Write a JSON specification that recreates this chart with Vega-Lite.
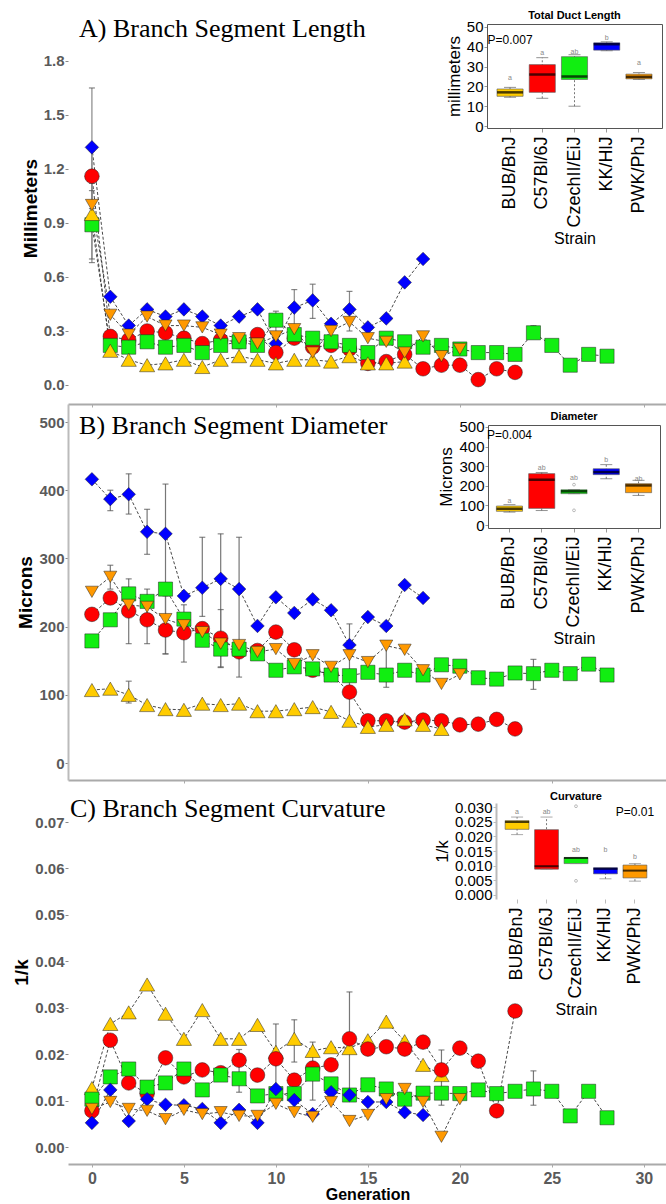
{
"$schema": "https://vega.github.io/schema/vega-lite/v6.json",
"padding": {"left": 12, "top": 10, "right": 0, "bottom": 0},
"autosize": {"type": "pad"},
"spacing": 0,
"bounds": "flush",
"config": {"view": {"stroke": null}, "font": "Liberation Sans", "axis": {"grid": false}},
"datasets": {
"lenA": [
{"strain":"KK/HlJ","gen":0,"value":1.32,"lo":0.68,"hi":1.65},{"strain":"KK/HlJ","gen":1,"value":0.49},{"strain":"KK/HlJ","gen":2,"value":0.33},{"strain":"KK/HlJ","gen":3,"value":0.42},{"strain":"KK/HlJ","gen":4,"value":0.38},{"strain":"KK/HlJ","gen":5,"value":0.42},{"strain":"KK/HlJ","gen":6,"value":0.38},{"strain":"KK/HlJ","gen":7,"value":0.33},{"strain":"KK/HlJ","gen":8,"value":0.38},{"strain":"KK/HlJ","gen":9,"value":0.42},{"strain":"KK/HlJ","gen":10,"value":0.23},{"strain":"KK/HlJ","gen":11,"value":0.43,"lo":0.33,"hi":0.53},{"strain":"KK/HlJ","gen":12,"value":0.47,"lo":0.37,"hi":0.56},{"strain":"KK/HlJ","gen":13,"value":0.34},{"strain":"KK/HlJ","gen":14,"value":0.42,"lo":0.30,"hi":0.52},{"strain":"KK/HlJ","gen":15,"value":0.32},{"strain":"KK/HlJ","gen":16,"value":0.37},{"strain":"KK/HlJ","gen":17,"value":0.57},{"strain":"KK/HlJ","gen":18,"value":0.70},
{"strain":"C57Bl/6J","gen":0,"value":1.16,"lo":0.98,"hi":1.30},{"strain":"C57Bl/6J","gen":1,"value":0.27},{"strain":"C57Bl/6J","gen":2,"value":0.25},{"strain":"C57Bl/6J","gen":3,"value":0.30},{"strain":"C57Bl/6J","gen":4,"value":0.29},{"strain":"C57Bl/6J","gen":5,"value":0.26},{"strain":"C57Bl/6J","gen":6,"value":0.23},{"strain":"C57Bl/6J","gen":7,"value":0.25},{"strain":"C57Bl/6J","gen":8,"value":0.24},{"strain":"C57Bl/6J","gen":9,"value":0.28},{"strain":"C57Bl/6J","gen":10,"value":0.18},{"strain":"C57Bl/6J","gen":11,"value":0.26},{"strain":"C57Bl/6J","gen":12,"value":0.21},{"strain":"C57Bl/6J","gen":13,"value":0.22},{"strain":"C57Bl/6J","gen":14,"value":0.20},{"strain":"C57Bl/6J","gen":15,"value":0.12},{"strain":"C57Bl/6J","gen":16,"value":0.13},{"strain":"C57Bl/6J","gen":17,"value":0.17},{"strain":"C57Bl/6J","gen":18,"value":0.09},{"strain":"C57Bl/6J","gen":19,"value":0.11},{"strain":"C57Bl/6J","gen":20,"value":0.11},{"strain":"C57Bl/6J","gen":21,"value":0.03},{"strain":"C57Bl/6J","gen":22,"value":0.09},{"strain":"C57Bl/6J","gen":23,"value":0.07},
{"strain":"CzechII/EiJ","gen":0,"value":0.89,"lo":0.70,"hi":1.08},{"strain":"CzechII/EiJ","gen":1,"value":0.22},{"strain":"CzechII/EiJ","gen":2,"value":0.21},{"strain":"CzechII/EiJ","gen":3,"value":0.24},{"strain":"CzechII/EiJ","gen":4,"value":0.21},{"strain":"CzechII/EiJ","gen":5,"value":0.22},{"strain":"CzechII/EiJ","gen":6,"value":0.18},{"strain":"CzechII/EiJ","gen":7,"value":0.22},{"strain":"CzechII/EiJ","gen":8,"value":0.24},{"strain":"CzechII/EiJ","gen":9,"value":0.22},{"strain":"CzechII/EiJ","gen":10,"value":0.36,"lo":0.26,"hi":0.41},{"strain":"CzechII/EiJ","gen":11,"value":0.28},{"strain":"CzechII/EiJ","gen":12,"value":0.26},{"strain":"CzechII/EiJ","gen":13,"value":0.24},{"strain":"CzechII/EiJ","gen":14,"value":0.22},{"strain":"CzechII/EiJ","gen":15,"value":0.18},{"strain":"CzechII/EiJ","gen":16,"value":0.26},{"strain":"CzechII/EiJ","gen":17,"value":0.24},{"strain":"CzechII/EiJ","gen":18,"value":0.21},{"strain":"CzechII/EiJ","gen":19,"value":0.22},{"strain":"CzechII/EiJ","gen":20,"value":0.20},{"strain":"CzechII/EiJ","gen":21,"value":0.18},{"strain":"CzechII/EiJ","gen":22,"value":0.18},{"strain":"CzechII/EiJ","gen":23,"value":0.17},{"strain":"CzechII/EiJ","gen":24,"value":0.29,"lo":0.26,"hi":0.33},{"strain":"CzechII/EiJ","gen":25,"value":0.22},{"strain":"CzechII/EiJ","gen":26,"value":0.11},{"strain":"CzechII/EiJ","gen":27,"value":0.17},{"strain":"CzechII/EiJ","gen":28,"value":0.16},
{"strain":"BUB/BnJ","gen":0,"value":0.95},{"strain":"BUB/BnJ","gen":1,"value":0.19},{"strain":"BUB/BnJ","gen":2,"value":0.14},{"strain":"BUB/BnJ","gen":3,"value":0.11},{"strain":"BUB/BnJ","gen":4,"value":0.12},{"strain":"BUB/BnJ","gen":5,"value":0.14},{"strain":"BUB/BnJ","gen":6,"value":0.10},{"strain":"BUB/BnJ","gen":7,"value":0.14},{"strain":"BUB/BnJ","gen":8,"value":0.16},{"strain":"BUB/BnJ","gen":9,"value":0.14},{"strain":"BUB/BnJ","gen":10,"value":0.12},{"strain":"BUB/BnJ","gen":11,"value":0.14},{"strain":"BUB/BnJ","gen":12,"value":0.14},{"strain":"BUB/BnJ","gen":13,"value":0.13},{"strain":"BUB/BnJ","gen":14,"value":0.16},{"strain":"BUB/BnJ","gen":15,"value":0.12},{"strain":"BUB/BnJ","gen":16,"value":0.12},{"strain":"BUB/BnJ","gen":17,"value":0.13},
{"strain":"PWK/PhJ","gen":0,"value":1.00,"lo":0.86,"hi":1.12},{"strain":"PWK/PhJ","gen":1,"value":0.39},{"strain":"PWK/PhJ","gen":2,"value":0.28},{"strain":"PWK/PhJ","gen":3,"value":0.38},{"strain":"PWK/PhJ","gen":4,"value":0.33},{"strain":"PWK/PhJ","gen":5,"value":0.33},{"strain":"PWK/PhJ","gen":6,"value":0.32},{"strain":"PWK/PhJ","gen":7,"value":0.28},{"strain":"PWK/PhJ","gen":8,"value":0.26},{"strain":"PWK/PhJ","gen":9,"value":0.23},{"strain":"PWK/PhJ","gen":10,"value":0.27},{"strain":"PWK/PhJ","gen":11,"value":0.31},{"strain":"PWK/PhJ","gen":12,"value":0.18},{"strain":"PWK/PhJ","gen":13,"value":0.30},{"strain":"PWK/PhJ","gen":14,"value":0.35},{"strain":"PWK/PhJ","gen":15,"value":0.26},{"strain":"PWK/PhJ","gen":16,"value":0.24},{"strain":"PWK/PhJ","gen":17,"value":0.18},{"strain":"PWK/PhJ","gen":18,"value":0.27},{"strain":"PWK/PhJ","gen":19,"value":0.16},{"strain":"PWK/PhJ","gen":20,"value":0.20}
],
"diaB": [
{"strain":"KK/HlJ","gen":0,"value":416},{"strain":"KK/HlJ","gen":1,"value":387,"lo":370,"hi":400},{"strain":"KK/HlJ","gen":2,"value":394,"lo":365,"hi":424},{"strain":"KK/HlJ","gen":3,"value":339,"lo":306,"hi":372},{"strain":"KK/HlJ","gen":4,"value":336,"lo":160,"hi":409},{"strain":"KK/HlJ","gen":5,"value":245},{"strain":"KK/HlJ","gen":6,"value":257,"lo":215,"hi":331},{"strain":"KK/HlJ","gen":7,"value":270,"lo":141,"hi":336},{"strain":"KK/HlJ","gen":8,"value":255,"lo":126,"hi":331},{"strain":"KK/HlJ","gen":9,"value":201},{"strain":"KK/HlJ","gen":10,"value":243},{"strain":"KK/HlJ","gen":11,"value":220},{"strain":"KK/HlJ","gen":12,"value":240},{"strain":"KK/HlJ","gen":13,"value":224},{"strain":"KK/HlJ","gen":14,"value":173},{"strain":"KK/HlJ","gen":15,"value":214},{"strain":"KK/HlJ","gen":16,"value":201},{"strain":"KK/HlJ","gen":17,"value":261},{"strain":"KK/HlJ","gen":18,"value":242},
{"strain":"C57Bl/6J","gen":0,"value":218},{"strain":"C57Bl/6J","gen":1,"value":242},{"strain":"C57Bl/6J","gen":2,"value":223},{"strain":"C57Bl/6J","gen":3,"value":210,"lo":175,"hi":255},{"strain":"C57Bl/6J","gen":4,"value":195,"lo":160,"hi":245},{"strain":"C57Bl/6J","gen":5,"value":191,"lo":148,"hi":232},{"strain":"C57Bl/6J","gen":6,"value":197},{"strain":"C57Bl/6J","gen":7,"value":183,"lo":140,"hi":225},{"strain":"C57Bl/6J","gen":8,"value":163},{"strain":"C57Bl/6J","gen":9,"value":165},{"strain":"C57Bl/6J","gen":10,"value":192},{"strain":"C57Bl/6J","gen":11,"value":166},{"strain":"C57Bl/6J","gen":12,"value":136},{"strain":"C57Bl/6J","gen":13,"value":130},{"strain":"C57Bl/6J","gen":14,"value":104,"lo":57,"hi":204},{"strain":"C57Bl/6J","gen":15,"value":62},{"strain":"C57Bl/6J","gen":16,"value":62},{"strain":"C57Bl/6J","gen":17,"value":60},{"strain":"C57Bl/6J","gen":18,"value":63},{"strain":"C57Bl/6J","gen":19,"value":62},{"strain":"C57Bl/6J","gen":20,"value":56},{"strain":"C57Bl/6J","gen":21,"value":57},{"strain":"C57Bl/6J","gen":22,"value":64},{"strain":"C57Bl/6J","gen":23,"value":50},
{"strain":"CzechII/EiJ","gen":0,"value":179},{"strain":"CzechII/EiJ","gen":1,"value":210},{"strain":"CzechII/EiJ","gen":2,"value":248,"lo":175,"hi":270},{"strain":"CzechII/EiJ","gen":3,"value":237},{"strain":"CzechII/EiJ","gen":4,"value":255},{"strain":"CzechII/EiJ","gen":5,"value":211},{"strain":"CzechII/EiJ","gen":6,"value":180},{"strain":"CzechII/EiJ","gen":7,"value":167},{"strain":"CzechII/EiJ","gen":8,"value":167},{"strain":"CzechII/EiJ","gen":9,"value":160},{"strain":"CzechII/EiJ","gen":10,"value":136},{"strain":"CzechII/EiJ","gen":11,"value":141},{"strain":"CzechII/EiJ","gen":12,"value":138},{"strain":"CzechII/EiJ","gen":13,"value":129},{"strain":"CzechII/EiJ","gen":14,"value":128},{"strain":"CzechII/EiJ","gen":15,"value":133},{"strain":"CzechII/EiJ","gen":16,"value":129},{"strain":"CzechII/EiJ","gen":17,"value":136},{"strain":"CzechII/EiJ","gen":18,"value":129},{"strain":"CzechII/EiJ","gen":19,"value":144},{"strain":"CzechII/EiJ","gen":20,"value":142},{"strain":"CzechII/EiJ","gen":21,"value":125},{"strain":"CzechII/EiJ","gen":22,"value":123},{"strain":"CzechII/EiJ","gen":23,"value":132},{"strain":"CzechII/EiJ","gen":24,"value":131,"lo":108,"hi":152},{"strain":"CzechII/EiJ","gen":25,"value":136},{"strain":"CzechII/EiJ","gen":26,"value":131},{"strain":"CzechII/EiJ","gen":27,"value":145},{"strain":"CzechII/EiJ","gen":28,"value":129},
{"strain":"BUB/BnJ","gen":0,"value":107},{"strain":"BUB/BnJ","gen":1,"value":109},{"strain":"BUB/BnJ","gen":2,"value":100,"lo":88,"hi":120},{"strain":"BUB/BnJ","gen":3,"value":85},{"strain":"BUB/BnJ","gen":4,"value":79},{"strain":"BUB/BnJ","gen":5,"value":78},{"strain":"BUB/BnJ","gen":6,"value":87},{"strain":"BUB/BnJ","gen":7,"value":85},{"strain":"BUB/BnJ","gen":8,"value":87},{"strain":"BUB/BnJ","gen":9,"value":76},{"strain":"BUB/BnJ","gen":10,"value":76},{"strain":"BUB/BnJ","gen":11,"value":79},{"strain":"BUB/BnJ","gen":12,"value":82},{"strain":"BUB/BnJ","gen":13,"value":75},{"strain":"BUB/BnJ","gen":14,"value":62},{"strain":"BUB/BnJ","gen":15,"value":53},{"strain":"BUB/BnJ","gen":16,"value":56},{"strain":"BUB/BnJ","gen":17,"value":64},{"strain":"BUB/BnJ","gen":18,"value":56},{"strain":"BUB/BnJ","gen":19,"value":50},
{"strain":"PWK/PhJ","gen":0,"value":251},{"strain":"PWK/PhJ","gen":1,"value":273,"lo":255,"hi":290},{"strain":"PWK/PhJ","gen":2,"value":232},{"strain":"PWK/PhJ","gen":3,"value":229},{"strain":"PWK/PhJ","gen":4,"value":211},{"strain":"PWK/PhJ","gen":5,"value":202},{"strain":"PWK/PhJ","gen":6,"value":192},{"strain":"PWK/PhJ","gen":7,"value":175},{"strain":"PWK/PhJ","gen":8,"value":173},{"strain":"PWK/PhJ","gen":9,"value":163},{"strain":"PWK/PhJ","gen":10,"value":167},{"strain":"PWK/PhJ","gen":11,"value":145},{"strain":"PWK/PhJ","gen":12,"value":158},{"strain":"PWK/PhJ","gen":13,"value":141},{"strain":"PWK/PhJ","gen":14,"value":158},{"strain":"PWK/PhJ","gen":15,"value":148},{"strain":"PWK/PhJ","gen":16,"value":172,"lo":111,"hi":177},{"strain":"PWK/PhJ","gen":17,"value":166},{"strain":"PWK/PhJ","gen":18,"value":136},{"strain":"PWK/PhJ","gen":19,"value":116},{"strain":"PWK/PhJ","gen":20,"value":130}
],
"curC": [
{"strain":"BUB/BnJ","gen":0,"value":0.0127},{"strain":"BUB/BnJ","gen":1,"value":0.0265},{"strain":"BUB/BnJ","gen":2,"value":0.029},{"strain":"BUB/BnJ","gen":3,"value":0.035},{"strain":"BUB/BnJ","gen":4,"value":0.0287},{"strain":"BUB/BnJ","gen":5,"value":0.0233},{"strain":"BUB/BnJ","gen":6,"value":0.0295},{"strain":"BUB/BnJ","gen":7,"value":0.0233},{"strain":"BUB/BnJ","gen":8,"value":0.0233},{"strain":"BUB/BnJ","gen":9,"value":0.0263},{"strain":"BUB/BnJ","gen":10,"value":0.0205},{"strain":"BUB/BnJ","gen":11,"value":0.0233,"lo":0.0183,"hi":0.0274},{"strain":"BUB/BnJ","gen":12,"value":0.0207},{"strain":"BUB/BnJ","gen":13,"value":0.0215},{"strain":"BUB/BnJ","gen":14,"value":0.0213},{"strain":"BUB/BnJ","gen":15,"value":0.023},{"strain":"BUB/BnJ","gen":16,"value":0.027},{"strain":"BUB/BnJ","gen":17,"value":0.0228},{"strain":"BUB/BnJ","gen":18,"value":0.0177},{"strain":"BUB/BnJ","gen":19,"value":0.0155},
{"strain":"C57Bl/6J","gen":0,"value":0.0078},{"strain":"C57Bl/6J","gen":1,"value":0.023},{"strain":"C57Bl/6J","gen":2,"value":0.0138},{"strain":"C57Bl/6J","gen":3,"value":0.0115},{"strain":"C57Bl/6J","gen":4,"value":0.0192},{"strain":"C57Bl/6J","gen":5,"value":0.0151},{"strain":"C57Bl/6J","gen":6,"value":0.0166},{"strain":"C57Bl/6J","gen":7,"value":0.016},{"strain":"C57Bl/6J","gen":8,"value":0.0187,"lo":0.0118,"hi":0.021},{"strain":"C57Bl/6J","gen":9,"value":0.0155},{"strain":"C57Bl/6J","gen":10,"value":0.019,"lo":0.012,"hi":0.0265},{"strain":"C57Bl/6J","gen":11,"value":0.0144},{"strain":"C57Bl/6J","gen":12,"value":0.017,"lo":0.0101,"hi":0.0226},{"strain":"C57Bl/6J","gen":13,"value":0.0177},{"strain":"C57Bl/6J","gen":14,"value":0.0233,"lo":0.0103,"hi":0.0334},{"strain":"C57Bl/6J","gen":15,"value":0.0211},{"strain":"C57Bl/6J","gen":16,"value":0.0216},{"strain":"C57Bl/6J","gen":17,"value":0.0211},{"strain":"C57Bl/6J","gen":18,"value":0.0226},{"strain":"C57Bl/6J","gen":19,"value":0.0166,"lo":0.009,"hi":0.0209},{"strain":"C57Bl/6J","gen":20,"value":0.0213},{"strain":"C57Bl/6J","gen":21,"value":0.0185},{"strain":"C57Bl/6J","gen":22,"value":0.0078},{"strain":"C57Bl/6J","gen":23,"value":0.0293},
{"strain":"CzechII/EiJ","gen":0,"value":0.0103},{"strain":"CzechII/EiJ","gen":1,"value":0.0151},{"strain":"CzechII/EiJ","gen":2,"value":0.0168},{"strain":"CzechII/EiJ","gen":3,"value":0.0129},{"strain":"CzechII/EiJ","gen":4,"value":0.0138},{"strain":"CzechII/EiJ","gen":5,"value":0.0168},{"strain":"CzechII/EiJ","gen":6,"value":0.0123},{"strain":"CzechII/EiJ","gen":7,"value":0.0155},{"strain":"CzechII/EiJ","gen":8,"value":0.0147},{"strain":"CzechII/EiJ","gen":9,"value":0.011},{"strain":"CzechII/EiJ","gen":10,"value":0.0115},{"strain":"CzechII/EiJ","gen":11,"value":0.0115},{"strain":"CzechII/EiJ","gen":12,"value":0.0157},{"strain":"CzechII/EiJ","gen":13,"value":0.0136},{"strain":"CzechII/EiJ","gen":14,"value":0.0112},{"strain":"CzechII/EiJ","gen":15,"value":0.0134},{"strain":"CzechII/EiJ","gen":16,"value":0.0125},{"strain":"CzechII/EiJ","gen":17,"value":0.0103},{"strain":"CzechII/EiJ","gen":18,"value":0.0116},{"strain":"CzechII/EiJ","gen":19,"value":0.0116},{"strain":"CzechII/EiJ","gen":20,"value":0.0115},{"strain":"CzechII/EiJ","gen":21,"value":0.0123},{"strain":"CzechII/EiJ","gen":22,"value":0.0115},{"strain":"CzechII/EiJ","gen":23,"value":0.012},{"strain":"CzechII/EiJ","gen":24,"value":0.0125,"lo":0.009,"hi":0.0164},{"strain":"CzechII/EiJ","gen":25,"value":0.012},{"strain":"CzechII/EiJ","gen":26,"value":0.0067},{"strain":"CzechII/EiJ","gen":27,"value":0.012},{"strain":"CzechII/EiJ","gen":28,"value":0.0063},
{"strain":"KK/HlJ","gen":0,"value":0.0052},{"strain":"KK/HlJ","gen":1,"value":0.0123},{"strain":"KK/HlJ","gen":2,"value":0.0056},{"strain":"KK/HlJ","gen":3,"value":0.0103},{"strain":"KK/HlJ","gen":4,"value":0.0091},{"strain":"KK/HlJ","gen":5,"value":0.009},{"strain":"KK/HlJ","gen":6,"value":0.0082},{"strain":"KK/HlJ","gen":7,"value":0.0052},{"strain":"KK/HlJ","gen":8,"value":0.008},{"strain":"KK/HlJ","gen":9,"value":0.0052},{"strain":"KK/HlJ","gen":10,"value":0.0125},{"strain":"KK/HlJ","gen":11,"value":0.0101},{"strain":"KK/HlJ","gen":12,"value":0.0071},{"strain":"KK/HlJ","gen":13,"value":0.0118},{"strain":"KK/HlJ","gen":14,"value":0.0112},{"strain":"KK/HlJ","gen":15,"value":0.0097},{"strain":"KK/HlJ","gen":16,"value":0.0097},{"strain":"KK/HlJ","gen":17,"value":0.0075},{"strain":"KK/HlJ","gen":18,"value":0.0069},
{"strain":"PWK/PhJ","gen":0,"value":0.0082},{"strain":"PWK/PhJ","gen":1,"value":0.0097},{"strain":"PWK/PhJ","gen":2,"value":0.0082},{"strain":"PWK/PhJ","gen":3,"value":0.0078},{"strain":"PWK/PhJ","gen":4,"value":0.006},{"strain":"PWK/PhJ","gen":5,"value":0.008},{"strain":"PWK/PhJ","gen":6,"value":0.0071},{"strain":"PWK/PhJ","gen":7,"value":0.0075},{"strain":"PWK/PhJ","gen":8,"value":0.0067},{"strain":"PWK/PhJ","gen":9,"value":0.0067},{"strain":"PWK/PhJ","gen":10,"value":0.0093},{"strain":"PWK/PhJ","gen":11,"value":0.0075},{"strain":"PWK/PhJ","gen":12,"value":0.0065},{"strain":"PWK/PhJ","gen":13,"value":0.0097},{"strain":"PWK/PhJ","gen":14,"value":0.0056},{"strain":"PWK/PhJ","gen":15,"value":0.0069},{"strain":"PWK/PhJ","gen":16,"value":0.0103},{"strain":"PWK/PhJ","gen":17,"value":0.0125},{"strain":"PWK/PhJ","gen":18,"value":0.0097},{"strain":"PWK/PhJ","gen":19,"value":0.0022},{"strain":"PWK/PhJ","gen":20,"value":0.0103}
],
"boxA": [
{"strain":"BUB/BnJ","lo":14.5,"q1":15,"med":17,"q3":18.7,"hi":19.5,"sig":"a","sig_y":24},
{"strain":"C57Bl/6J","lo":14,"q1":17,"med":26,"q3":31,"hi":34.5,"sig":"a","sig_y":37},
{"strain":"CzechII/EiJ","lo":10,"q1":23.5,"med":25,"q3":35,"hi":36,"sig":"ab","sig_y":37.5},
{"strain":"KK/HlJ","lo":38,"q1":38.3,"med":41.3,"q3":42,"hi":42.5,"sig":"b","sig_y":44.5},
{"strain":"PWK/PhJ","lo":23.5,"q1":23.8,"med":24.8,"q3":26.2,"hi":27,"sig":"a","sig_y":32}
],
"boxB": [
{"strain":"BUB/BnJ","lo":66,"q1":70,"med":83,"q3":97,"hi":104,"sig":"a","sig_y":122},
{"strain":"C57Bl/6J","lo":74,"q1":85,"med":231,"q3":262,"hi":268,"sig":"ab","sig_y":292},
{"strain":"CzechII/EiJ","lo":160,"q1":160,"med":172,"q3":180,"hi":180,"out1":206,"out2":75,"sig":"ab","sig_y":240},
{"strain":"KK/HlJ","lo":236,"q1":257,"med":270,"q3":287,"hi":308,"sig":"b","sig_y":333},
{"strain":"PWK/PhJ","lo":151,"q1":165,"med":202,"q3":211,"hi":228,"sig":"ab","sig_y":237}
],
"boxC": [
{"strain":"BUB/BnJ","lo":0.0206,"q1":0.0224,"med":0.0249,"q3":0.0254,"hi":0.0266,"sig":"a","sig_y":0.0283},
{"strain":"C57Bl/6J","lo":0.0088,"q1":0.0088,"med":0.0098,"q3":0.0223,"hi":0.0266,"sig":"ab","sig_y":0.0283},
{"strain":"CzechII/EiJ","lo":0.0107,"q1":0.0107,"med":0.0126,"q3":0.0128,"hi":0.0128,"out1":0.0048,"out2":0.0303,"sig":"ab","sig_y":0.0152},
{"strain":"KK/HlJ","lo":0.0055,"q1":0.0072,"med":0.0089,"q3":0.0093,"hi":0.0093,"sig":"b","sig_y":0.0152},
{"strain":"PWK/PhJ","lo":0.0047,"q1":0.0058,"med":0.0083,"q3":0.0102,"hi":0.0107,"sig":"b","sig_y":0.013}
]
},
"vconcat": [
{
"width": 599, "height": 392,
"layer": [
{"data": {"name": "lenA"},
"layer": [
{"mark": {"type": "line", "strokeDash": [3, 2], "strokeWidth": 0.9, "color": "#333"},
"encoding": {
"x": {"field": "gen", "type": "quantitative", "title": null, "scale": {"domain": [-1.3, 31.26], "nice": false, "zero": false}, "axis": {"orient": "bottom", "values": [0, 10, 20, 30], "labels": false, "domainColor": "#aaa", "domainWidth": 2, "tickColor": "#aaa", "tickSize": 3}},
"y": {"field": "value", "type": "quantitative", "title": "Millimeters", "scale": {"domain": [-0.1056, 2.072], "nice": false, "zero": false}, "axis": {"values": [0, 0.3, 0.6, 0.9, 1.2, 1.5, 1.8], "format": ".1f", "domain": false, "tickSize": 3, "tickColor": "#888", "labelPadding": 1, "labelFontWeight": "bold", "labelFontSize": 15, "labelColor": "#5a5a5a", "titleFontSize": 19, "titleFontWeight": "bold", "titleColor": "black", "titlePadding": 3}},
"detail": {"field": "strain"},
"order": {"field": "gen"}}},
{"transform": [{"filter": "isValid(datum.lo)"}],
"mark": {"type": "rule", "color": "#888", "strokeWidth": 1.2},
"encoding": {"x": {"field": "gen", "type": "quantitative", "title": null}, "y": {"field": "lo", "type": "quantitative", "title": "Millimeters"}, "y2": {"field": "hi"}}},
{"transform": [{"filter": "isValid(datum.lo)"}, {"fold": ["lo", "hi"], "as": ["end", "ev"]}],
"mark": {"type": "point", "shape": "M-1,0L1,0", "size": 36, "color": "#555", "strokeWidth": 1.2, "filled": false},
"encoding": {"x": {"field": "gen", "type": "quantitative", "title": null}, "y": {"field": "ev", "type": "quantitative", "title": "Millimeters"}}},
{"mark": {"type": "point", "filled": true, "stroke": "#222", "strokeWidth": 0.5, "opacity": 1},
"encoding": {"x": {"field": "gen", "type": "quantitative", "title": null}, "y": {"field": "value", "type": "quantitative", "title": "Millimeters"},
"color": {"field": "strain", "type": "nominal", "legend": null, "scale": {"domain": ["BUB/BnJ", "C57Bl/6J", "CzechII/EiJ", "KK/HlJ", "PWK/PhJ"], "range": ["#FFCC00", "#FF0000", "#11EE11", "#0000FF", "#FF9900"]}},
"shape": {"field": "strain", "type": "nominal", "legend": null, "scale": {"domain": ["BUB/BnJ", "C57Bl/6J", "CzechII/EiJ", "KK/HlJ", "PWK/PhJ"], "range": ["triangle-up", "circle", "square", "diamond", "triangle-down"]}},
"size": {"field": "strain", "type": "nominal", "legend": null, "scale": {"domain": ["BUB/BnJ", "C57Bl/6J", "CzechII/EiJ", "KK/HlJ", "PWK/PhJ"], "range": [230, 170, 160, 200, 230]}}}},
{"data": {"values": [{"t": "A) Branch Segment Length"}]},
"mark": {"type": "text", "font": "Liberation Serif", "fontSize": 26, "align": "left", "baseline": "alphabetic", "color": "black"},
"encoding": {"x": {"datum": -0.70, "type": "quantitative", "title": null}, "y": {"datum": 1.933, "type": "quantitative", "title": "Millimeters"}, "text": {"field": "t"}}}
]},
{"data": {"name": "boxA"},
"layer": [
{"mark": {"type": "rule", "color": "#777", "strokeDash": [2, 2], "strokeWidth": 1},
"encoding": {
"x": {"field": "strain", "type": "nominal", "sort": null, "title": "Strain", "scale": {"type": "band", "domain": ["BUB/BnJ", "C57Bl/6J", "CzechII/EiJ", "KK/HlJ", "PWK/PhJ"], "range": [419, 594], "paddingInner": 0.19, "paddingOuter": 0.31}, "axis": {"orient": "bottom", "offset": -276, "labelAngle": 270, "labelFontSize": 18, "labelColor": "black", "tickColor": "#999", "tickSize": 4, "domainColor": "#555", "titleFontSize": 16, "titleFontWeight": "normal", "titleColor": "black", "titlePadding": 3, "labelPadding": 4}},
"y": {"field": "lo", "type": "quantitative", "title": "millimeters", "scale": {"domain": [-1, 51.5], "range": [116, 12], "nice": false, "zero": false}, "axis": {"orient": "left", "offset": -419, "values": [0, 10, 20, 30, 40, 50], "labelOverlap": false, "labelFontSize": 15, "labelColor": "black", "tickColor": "#999", "tickSize": 3, "labelPadding": 1, "domainColor": "#555", "titleFontSize": 17, "titleFontWeight": "normal", "titleColor": "black", "titlePadding": 3}},
"y2": {"field": "hi"}}},
{"mark": {"type": "bar", "stroke": "#555", "strokeWidth": 0.6, "opacity": 1},
"encoding": {
"x": {"field": "strain", "type": "nominal", "sort": null, "axis": {"orient": "top", "offset": -12, "labels": false, "ticks": false, "title": null, "domainColor": "#555"}},
"y": {"field": "q1", "type": "quantitative", "axis": {"orient": "right", "offset": -5, "labels": false, "ticks": false, "title": null, "domainColor": "#555"}},
"y2": {"field": "q3"},
"color": {"field": "strain", "type": "nominal", "legend": null}}},
{"transform": [{"fold": ["lo", "hi"], "as": ["end", "ev"]}],
"mark": {"type": "point", "shape": "M-1,0L1,0", "size": 144, "color": "#666", "strokeWidth": 1, "filled": false},
"encoding": {"x": {"field": "strain", "type": "nominal", "sort": null, "axis": null}, "y": {"field": "ev", "type": "quantitative", "axis": null}}},
{"mark": {"type": "point", "shape": "M-1,0L1,0", "size": 676, "color": "black", "strokeWidth": 2.5, "filled": false},
"encoding": {"x": {"field": "strain", "type": "nominal", "sort": null, "axis": null}, "y": {"field": "med", "type": "quantitative", "axis": null}}},
{"mark": {"type": "text", "fontSize": 7, "color": "#888"},
"encoding": {"x": {"field": "strain", "type": "nominal", "sort": null, "axis": null}, "y": {"field": "sig_y", "type": "quantitative", "axis": null}, "text": {"field": "sig"}}},
{"data": {"values": [{"t": "Total Duct Length"}]},
"mark": {"type": "text", "fontSize": 11, "fontWeight": "bold", "color": "black"},
"encoding": {"x": {"datum": "CzechII/EiJ", "type": "nominal", "axis": null}, "y": {"datum": 55.5, "type": "quantitative", "axis": null}, "text": {"field": "t"}}},
{"data": {"values": [{"t": "P=0.007"}]},
"mark": {"type": "text", "fontSize": 12, "color": "black"},
"encoding": {"x": {"datum": "BUB/BnJ", "type": "nominal", "axis": null}, "y": {"datum": 43.4, "type": "quantitative", "axis": null}, "text": {"field": "t"}}}
],
"resolve": {"axis": {"x": "independent", "y": "independent"}}}
],
"resolve": {"scale": {"x": "independent", "y": "independent"}, "axis": {"x": "independent", "y": "independent"}}
},
{
"width": 599, "height": 376,
"layer": [
{"data": {"name": "diaB"},
"layer": [
{"mark": {"type": "line", "strokeDash": [3, 2], "strokeWidth": 0.9, "color": "#333"},
"encoding": {
"x": {"field": "gen", "type": "quantitative", "title": null, "scale": {"domain": [-1.3, 31.26], "nice": false, "zero": false}, "axis": {"orient": "bottom", "values": [5, 15, 25], "labels": false, "domainColor": "#aaa", "domainWidth": 2, "tickColor": "#aaa", "tickSize": 3}},
"y": {"field": "value", "type": "quantitative", "title": "Microns", "scale": {"domain": [-24.9, 526.4], "nice": false, "zero": false}, "axis": {"values": [0, 50, 100, 150, 200, 250, 300, 350, 400, 450, 500], "format": "d", "domain": true, "domainColor": "#bbb", "domainWidth": 2, "tickSize": 3, "tickColor": "#888", "labelPadding": 1, "labelFontWeight": "bold", "labelFontSize": 15, "labelColor": "#5a5a5a", "titleFontSize": 19, "titleFontWeight": "bold", "titleColor": "black", "titlePadding": 3}},
"detail": {"field": "strain"},
"order": {"field": "gen"}}},
{"transform": [{"filter": "isValid(datum.lo)"}],
"mark": {"type": "rule", "color": "#777", "strokeWidth": 1.2},
"encoding": {"x": {"field": "gen", "type": "quantitative", "title": null}, "y": {"field": "lo", "type": "quantitative", "title": "Microns"}, "y2": {"field": "hi"}}},
{"transform": [{"filter": "isValid(datum.lo)"}, {"fold": ["lo", "hi"], "as": ["end", "ev"]}],
"mark": {"type": "point", "shape": "M-1,0L1,0", "size": 36, "color": "#555", "strokeWidth": 1.2, "filled": false},
"encoding": {"x": {"field": "gen", "type": "quantitative", "title": null}, "y": {"field": "ev", "type": "quantitative", "title": "Microns"}}},
{"mark": {"type": "point", "filled": true, "stroke": "#222", "strokeWidth": 0.5, "opacity": 1},
"encoding": {"x": {"field": "gen", "type": "quantitative", "title": null}, "y": {"field": "value", "type": "quantitative", "title": "Microns"},
"color": {"field": "strain", "type": "nominal", "legend": null, "scale": {"domain": ["BUB/BnJ", "C57Bl/6J", "CzechII/EiJ", "KK/HlJ", "PWK/PhJ"], "range": ["#FFCC00", "#FF0000", "#11EE11", "#0000FF", "#FF9900"]}},
"shape": {"field": "strain", "type": "nominal", "legend": null, "scale": {"domain": ["BUB/BnJ", "C57Bl/6J", "CzechII/EiJ", "KK/HlJ", "PWK/PhJ"], "range": ["triangle-up", "circle", "square", "diamond", "triangle-down"]}},
"size": {"field": "strain", "type": "nominal", "legend": null, "scale": {"domain": ["BUB/BnJ", "C57Bl/6J", "CzechII/EiJ", "KK/HlJ", "PWK/PhJ"], "range": [230, 170, 160, 200, 230]}}}},
{"data": {"values": [{"t": "B) Branch Segment Diameter"}]},
"mark": {"type": "text", "font": "Liberation Serif", "fontSize": 26, "align": "left", "baseline": "alphabetic", "color": "black"},
"encoding": {"x": {"datum": -0.70, "type": "quantitative", "title": null}, "y": {"datum": 482.4, "type": "quantitative", "title": "Microns"}, "text": {"field": "t"}}}
]},
{"data": {"name": "boxB"},
"layer": [
{"mark": {"type": "rule", "color": "#777", "strokeDash": [2, 2], "strokeWidth": 1},
"encoding": {
"x": {"field": "strain", "type": "nominal", "sort": null, "title": "Strain", "scale": {"type": "band", "domain": ["BUB/BnJ", "C57Bl/6J", "CzechII/EiJ", "KK/HlJ", "PWK/PhJ"], "range": [420, 592], "paddingInner": 0.19, "paddingOuter": 0.26}, "axis": {"orient": "bottom", "offset": -252, "labelAngle": 270, "labelFontSize": 18, "labelColor": "black", "tickColor": "#999", "tickSize": 4, "domainColor": "#555", "titleFontSize": 16, "titleFontWeight": "normal", "titleColor": "black", "titlePadding": 3, "labelPadding": 4}},
"y": {"field": "lo", "type": "quantitative", "title": "Microns", "scale": {"domain": [-15, 510], "range": [124, 21], "nice": false, "zero": false}, "axis": {"orient": "left", "offset": -420, "values": [0, 100, 200, 300, 400, 500], "labelOverlap": false, "labelFontSize": 15, "labelColor": "black", "tickColor": "#999", "tickSize": 3, "labelPadding": 1, "domainColor": "#555", "titleFontSize": 17, "titleFontWeight": "normal", "titleColor": "black", "titlePadding": 3}},
"y2": {"field": "hi"}}},
{"mark": {"type": "bar", "stroke": "#555", "strokeWidth": 0.6, "opacity": 1},
"encoding": {
"x": {"field": "strain", "type": "nominal", "sort": null, "axis": {"orient": "top", "offset": -21, "labels": false, "ticks": false, "title": null, "domainColor": "#555"}},
"y": {"field": "q1", "type": "quantitative", "axis": {"orient": "right", "offset": -7, "labels": false, "ticks": false, "title": null, "domainColor": "#555"}},
"y2": {"field": "q3"},
"color": {"field": "strain", "type": "nominal", "legend": null}}},
{"transform": [{"fold": ["lo", "hi"], "as": ["end", "ev"]}],
"mark": {"type": "point", "shape": "M-1,0L1,0", "size": 144, "color": "#666", "strokeWidth": 1, "filled": false},
"encoding": {"x": {"field": "strain", "type": "nominal", "sort": null, "axis": null}, "y": {"field": "ev", "type": "quantitative", "axis": null}}},
{"transform": [{"fold": ["out1", "out2"], "as": ["oname", "ov"]}, {"filter": "isValid(datum.ov)"}],
"mark": {"type": "point", "size": 8, "color": "#888", "strokeWidth": 0.8, "filled": false},
"encoding": {"x": {"field": "strain", "type": "nominal", "sort": null, "axis": null}, "y": {"field": "ov", "type": "quantitative", "axis": null}}},
{"mark": {"type": "point", "shape": "M-1,0L1,0", "size": 676, "color": "black", "strokeWidth": 2.5, "filled": false},
"encoding": {"x": {"field": "strain", "type": "nominal", "sort": null, "axis": null}, "y": {"field": "med", "type": "quantitative", "axis": null}}},
{"mark": {"type": "text", "fontSize": 7, "color": "#888"},
"encoding": {"x": {"field": "strain", "type": "nominal", "sort": null, "axis": null}, "y": {"field": "sig_y", "type": "quantitative", "axis": null}, "text": {"field": "sig"}}},
{"data": {"values": [{"t": "Diameter"}]},
"mark": {"type": "text", "fontSize": 11, "fontWeight": "bold", "color": "black"},
"encoding": {"x": {"datum": "CzechII/EiJ", "type": "nominal", "axis": null}, "y": {"datum": 551, "type": "quantitative", "axis": null}, "text": {"field": "t"}}},
{"data": {"values": [{"t": "P=0.004"}]},
"mark": {"type": "text", "fontSize": 12, "color": "black"},
"encoding": {"x": {"datum": "BUB/BnJ", "type": "nominal", "axis": null}, "y": {"datum": 459, "type": "quantitative", "axis": null}, "text": {"field": "t"}}}
],
"resolve": {"axis": {"x": "independent", "y": "independent"}}}
],
"resolve": {"scale": {"x": "independent", "y": "independent"}, "axis": {"x": "independent", "y": "independent"}}
},
{
"width": 599, "height": 384,
"layer": [
{"data": {"name": "curC"},
"layer": [
{"mark": {"type": "line", "strokeDash": [3, 2], "strokeWidth": 0.9, "color": "#333"},
"encoding": {
"x": {"field": "gen", "type": "quantitative", "title": "Generation", "scale": {"domain": [-1.3, 31.26], "nice": false, "zero": false}, "axis": {"orient": "bottom", "values": [0, 5, 10, 15, 20, 25, 30], "labelFontWeight": "bold", "labelFontSize": 16, "labelColor": "#5a5a5a", "labelPadding": 3, "domainColor": "#aaa", "domainWidth": 2, "tickColor": "#aaa", "tickSize": 3, "titleFontSize": 16, "titleFontWeight": "bold", "titleColor": "black", "titlePadding": 0}},
"y": {"field": "value", "type": "quantitative", "title": "1/k", "scale": {"domain": [-0.00366, 0.07905], "nice": false, "zero": false}, "axis": {"values": [0, 0.01, 0.02, 0.03, 0.04, 0.05, 0.06, 0.07], "format": ".2f", "domain": false, "tickSize": 3, "tickColor": "#888", "labelPadding": 1, "labelFontWeight": "bold", "labelFontSize": 15, "labelColor": "#5a5a5a", "titleFontSize": 19, "titleFontWeight": "bold", "titleColor": "black", "titlePadding": 3}},
"detail": {"field": "strain"},
"order": {"field": "gen"}}},
{"transform": [{"filter": "isValid(datum.lo)"}],
"mark": {"type": "rule", "color": "#777", "strokeWidth": 1.2},
"encoding": {"x": {"field": "gen", "type": "quantitative", "title": "Generation"}, "y": {"field": "lo", "type": "quantitative", "title": "1/k"}, "y2": {"field": "hi"}}},
{"transform": [{"filter": "isValid(datum.lo)"}, {"fold": ["lo", "hi"], "as": ["end", "ev"]}],
"mark": {"type": "point", "shape": "M-1,0L1,0", "size": 36, "color": "#555", "strokeWidth": 1.2, "filled": false},
"encoding": {"x": {"field": "gen", "type": "quantitative", "title": "Generation"}, "y": {"field": "ev", "type": "quantitative", "title": "1/k"}}},
{"mark": {"type": "point", "filled": true, "stroke": "#222", "strokeWidth": 0.5, "opacity": 1},
"encoding": {"x": {"field": "gen", "type": "quantitative", "title": "Generation"}, "y": {"field": "value", "type": "quantitative", "title": "1/k"},
"color": {"field": "strain", "type": "nominal", "legend": null, "scale": {"domain": ["BUB/BnJ", "C57Bl/6J", "CzechII/EiJ", "KK/HlJ", "PWK/PhJ"], "range": ["#FFCC00", "#FF0000", "#11EE11", "#0000FF", "#FF9900"]}},
"shape": {"field": "strain", "type": "nominal", "legend": null, "scale": {"domain": ["BUB/BnJ", "C57Bl/6J", "CzechII/EiJ", "KK/HlJ", "PWK/PhJ"], "range": ["triangle-up", "circle", "square", "diamond", "triangle-down"]}},
"size": {"field": "strain", "type": "nominal", "legend": null, "scale": {"domain": ["BUB/BnJ", "C57Bl/6J", "CzechII/EiJ", "KK/HlJ", "PWK/PhJ"], "range": [230, 170, 160, 200, 230]}}}},
{"data": {"values": [{"t": "C) Branch Segment Curvature"}]},
"mark": {"type": "text", "font": "Liberation Serif", "fontSize": 26, "align": "left", "baseline": "alphabetic", "color": "black"},
"encoding": {"x": {"datum": -1.19, "type": "quantitative", "title": "Generation"}, "y": {"datum": 0.07108, "type": "quantitative", "title": "1/k"}, "text": {"field": "t"}}}
]},
{"data": {"name": "boxC"},
"layer": [
{"mark": {"type": "rule", "color": "#777", "strokeDash": [2, 2], "strokeWidth": 1},
"encoding": {
"x": {"field": "strain", "type": "nominal", "sort": null, "title": "Strain", "scale": {"type": "band", "domain": ["BUB/BnJ", "C57Bl/6J", "CzechII/EiJ", "KK/HlJ", "PWK/PhJ"], "range": [428, 588], "paddingInner": 0.19, "paddingOuter": 0.31}, "axis": {"orient": "bottom", "offset": -265, "domain": false, "labelAngle": 270, "labelFontSize": 18, "labelColor": "black", "tickColor": "#bbb", "tickSize": 4, "titleFontSize": 16, "titleFontWeight": "normal", "titleColor": "black", "titlePadding": 3, "labelPadding": 4}},
"y": {"field": "lo", "type": "quantitative", "title": "1/k", "scale": {"domain": [-0.0014, 0.0314], "range": [119, 23], "nice": false, "zero": false}, "axis": {"orient": "left", "offset": -428, "values": [0, 0.005, 0.01, 0.015, 0.02, 0.025, 0.03], "format": ".3f", "labelOverlap": false, "labelFontSize": 15, "labelColor": "black", "tickColor": "#bbb", "tickSize": 3, "labelPadding": 1, "domainColor": "#bbb", "domainWidth": 2, "titleFontSize": 17, "titleFontWeight": "normal", "titleColor": "black", "titlePadding": 3}},
"y2": {"field": "hi"}}},
{"mark": {"type": "bar", "stroke": "#555", "strokeWidth": 0.6, "opacity": 1},
"encoding": {
"x": {"field": "strain", "type": "nominal", "sort": null, "axis": null},
"y": {"field": "q1", "type": "quantitative", "axis": null},
"y2": {"field": "q3"},
"color": {"field": "strain", "type": "nominal", "legend": null}}},
{"transform": [{"fold": ["lo", "hi"], "as": ["end", "ev"]}],
"mark": {"type": "point", "shape": "M-1,0L1,0", "size": 144, "color": "#888", "strokeWidth": 1, "filled": false},
"encoding": {"x": {"field": "strain", "type": "nominal", "sort": null, "axis": null}, "y": {"field": "ev", "type": "quantitative", "axis": null}}},
{"transform": [{"fold": ["out1", "out2"], "as": ["oname", "ov"]}, {"filter": "isValid(datum.ov)"}],
"mark": {"type": "point", "size": 8, "color": "#888", "strokeWidth": 0.8, "filled": false},
"encoding": {"x": {"field": "strain", "type": "nominal", "sort": null, "axis": null}, "y": {"field": "ov", "type": "quantitative", "axis": null}}},
{"mark": {"type": "point", "shape": "M-1,0L1,0", "size": 576, "color": "black", "strokeWidth": 2, "filled": false},
"encoding": {"x": {"field": "strain", "type": "nominal", "sort": null, "axis": null}, "y": {"field": "med", "type": "quantitative", "axis": null}}},
{"mark": {"type": "text", "fontSize": 7, "color": "#888"},
"encoding": {"x": {"field": "strain", "type": "nominal", "sort": null, "axis": null}, "y": {"field": "sig_y", "type": "quantitative", "axis": null}, "text": {"field": "sig"}}},
{"data": {"values": [{"t": "Curvature"}]},
"mark": {"type": "text", "fontSize": 11, "fontWeight": "bold", "color": "black"},
"encoding": {"x": {"datum": "CzechII/EiJ", "type": "nominal", "axis": null}, "y": {"datum": 0.0334, "type": "quantitative", "axis": null}, "text": {"field": "t"}}},
{"data": {"values": [{"t": "P=0.01"}]},
"mark": {"type": "text", "fontSize": 12, "color": "black"},
"encoding": {"x": {"datum": "PWK/PhJ", "type": "nominal", "axis": null}, "y": {"datum": 0.0283, "type": "quantitative", "axis": null}, "text": {"field": "t"}}}
],
"resolve": {"axis": {"x": "independent", "y": "independent"}}}
],
"resolve": {"scale": {"x": "independent", "y": "independent"}, "axis": {"x": "independent", "y": "independent"}}
}
]
}
